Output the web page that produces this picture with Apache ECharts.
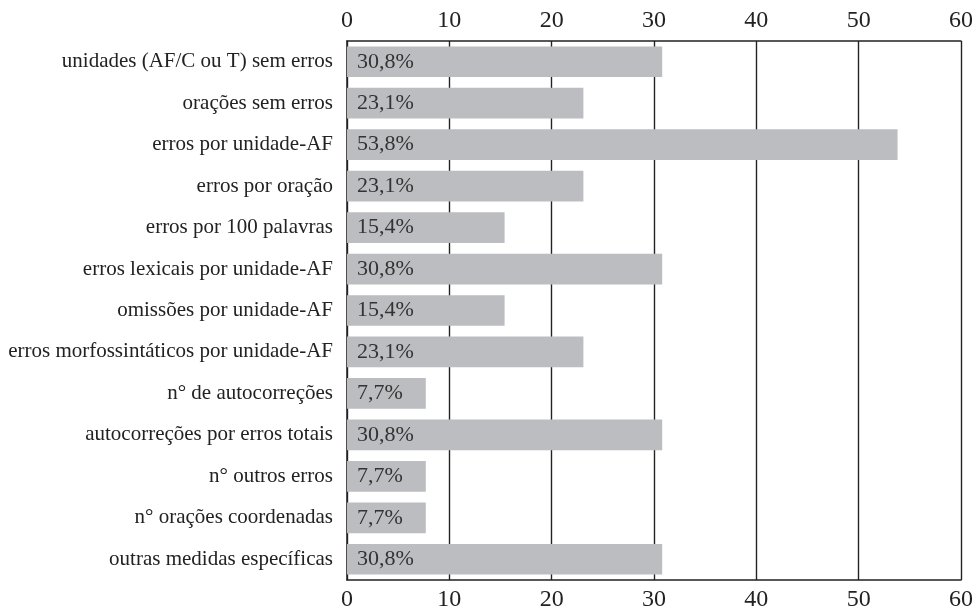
<!DOCTYPE html>
<html>
<head>
<meta charset="utf-8">
<script src="https://cdn.jsdelivr.net/npm/echarts@6/dist/echarts.min.js"></script>
<style>
html, body { margin: 0; padding: 0; background: #fff; }
#main { width: 979px; height: 612px; }
</style>
</head>
<body>
<div id="main"></div>
<script>
var categories = [
    'unidades (AF/C ou T) sem erros',
    'orações sem erros',
    'erros por unidade-AF',
    'erros por oração',
    'erros por 100 palavras',
    'erros lexicais por unidade-AF',
    'omissões por unidade-AF',
    'erros morfossintáticos por unidade-AF',
    'n° de autocorreções',
    'autocorreções por erros totais',
    'n° outros erros',
    'n° orações coordenadas',
    'outras medidas específicas'
];
var values = [30.8, 23.1, 53.8, 23.1, 15.4, 30.8, 15.4, 23.1, 7.7, 30.8, 7.7, 7.7, 30.8];
var xTicks = [0, 10, 20, 30, 40, 50, 60];

var serif = '"Liberation Serif", "DejaVu Serif", serif';

function xAxisFor(pos) {
    return {
        type: 'value',
        position: pos,
        min: xTicks[0],
        max: xTicks[xTicks.length - 1],
        interval: 10,
        axisLine: { show: true, onZero: false, lineStyle: { color: '#222', width: 1.5 } },
        axisTick: { show: false },
        axisLabel: { color: '#222', fontFamily: serif, fontSize: 24, margin: 8 },
        splitLine: { show: true, lineStyle: { color: '#222', width: 1.2 } }
    };
}

var option = {
    backgroundColor: '#fff',
    animation: false,
    grid: { left: 347, right: 18, top: 41, bottom: 29 },
    xAxis: [xAxisFor('top'), xAxisFor('bottom')],
    yAxis: {
        type: 'category',
        data: categories,
        inverse: true,
        axisLine: { show: true, lineStyle: { color: '#222', width: 1.5 } },
        axisTick: { show: false },
        axisLabel: { color: '#222', fontFamily: serif, fontSize: 21, margin: 14 }
    },
    series: [{
        type: 'bar',
        xAxisIndex: 0,
        data: values,
        barWidth: '74%',
        itemStyle: { color: '#bcbdc0' },
        label: {
            show: true,
            position: 'insideLeft',
            distance: 10,
            color: '#333',
            fontFamily: serif,
            fontSize: 22,
            formatter: function (p) { return String(p.value).replace('.', ',') + '%'; }
        }
    }]
};

var myChart = echarts.init(document.getElementById('main'));
myChart.setOption(option);
</script>
</body>
</html>
